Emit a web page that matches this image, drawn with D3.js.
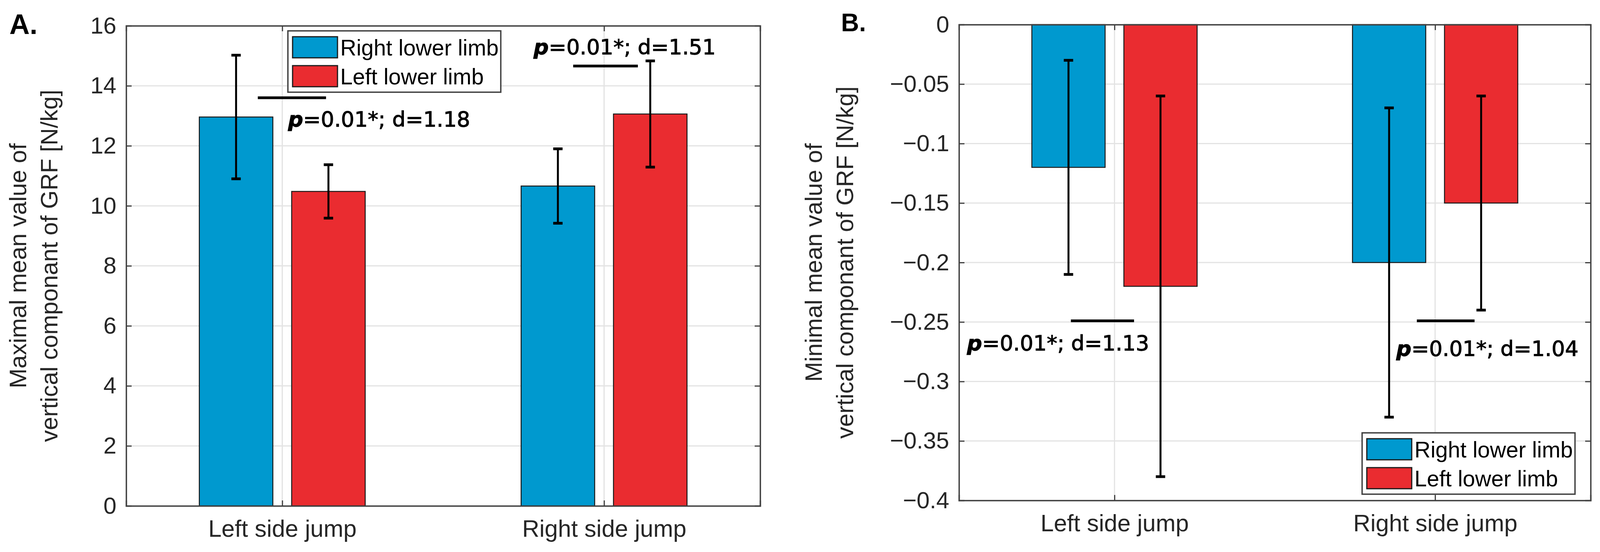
<!DOCTYPE html>
<html>
<head>
<meta charset="utf-8">
<script src="https://cdn.jsdelivr.net/npm/d3@7"></script>
<style>
  body { margin: 0; background: #fff; }
  svg { display: block; font-family: Arial, "Liberation Sans", sans-serif; }
</style>
</head>
<body>
<div id="chart"></div>
<script>
// ---- data ----
const categories = ["Left side jump", "Right side jump"];
const seriesNames = ["Right lower limb", "Left lower limb"];
const seriesColors = ["#0099cf", "#ea2c30"];

// panel A: maximal mean value (N/kg)
const maxRightLimb = [12.96, 10.66];
const maxRightLimbSD = [2.06, 1.24];
const maxLeftLimb = [10.48, 13.06];
const maxLeftLimbSD = [0.89, 1.77];
const ticksA = [0, 2, 4, 6, 8, 10, 12, 14, 16];

// panel B: minimal mean value (N/kg)
const minRightLimb = [-0.12, -0.20];
const minRightLimbSD = [0.09, 0.13];
const minLeftLimb = [-0.22, -0.15];
const minLeftLimbSD = [0.16, 0.09];
const ticksB = [-0.4, -0.35, -0.3, -0.25, -0.2, -0.15, -0.1, -0.05, 0];

// significance notes: [x1, x2, yLine, xText, yText, text]
const notesA = [
  [0.924, 1.136, 13.6, 1.018, 12.64, "=0.01*; d=1.18"],
  [1.904, 2.105, 14.66, 1.781, 15.05, "=0.01*; d=1.51"]
];
const notesB = [
  [0.864, 1.061, -0.249, 0.540, -0.274, "=0.01*; d=1.13"],
  [1.943, 2.123, -0.249, 1.879, -0.2785, "=0.01*; d=1.04"]
];

const W = 4102, H = 1413;
const svg = d3.select("#chart").append("svg")
  .attr("width", W).attr("height", H);

const axisColor = "#262626";
const fmtB = d => d === 0 ? "0" : d3.format("")(d).replace("-", "\u2212");

function drawPanel(cfg) {
  const g = svg.append("g");
  const x = d3.scaleLinear().domain([0.515, 2.485]).range([cfg.left, cfg.right]);
  const y = d3.scaleLinear().domain(cfg.yDomain).range([cfg.bottom, cfg.top]);
  const unit = x(1) - x(0);

  // grid
  g.append("g").selectAll("line.hg").data(cfg.ticks).enter().append("line")
    .attr("x1", cfg.left).attr("x2", cfg.right)
    .attr("y1", d => y(d)).attr("y2", d => y(d))
    .attr("stroke", "#e3e3e3").attr("stroke-width", 3);
  g.append("g").selectAll("line.vg").data([1, 2]).enter().append("line")
    .attr("x1", d => x(d)).attr("x2", d => x(d))
    .attr("y1", cfg.top).attr("y2", cfg.bottom)
    .attr("stroke", "#e3e3e3").attr("stroke-width", 3);

  // bars
  const offsets = [-0.1435, 0.1435];
  const bw = 0.2285 * unit;
  cfg.series.forEach((vals, s) => {
    const bars = g.append("g");
    bars.selectAll("rect").data(vals).enter().append("rect")
      .attr("x", (d, i) => x(i + 1 + offsets[s]) - bw / 2)
      .attr("width", bw)
      .attr("y", d => Math.min(y(d), y(0)))
      .attr("height", d => Math.abs(y(d) - y(0)))
      .attr("fill", seriesColors[s])
      .attr("stroke", "#1a1a1a").attr("stroke-width", 2.5);
  });

  // error bars
  cfg.series.forEach((vals, s) => {
    const sd = cfg.sds[s];
    const eg = g.append("g").attr("stroke", "#000");
    vals.forEach((v, i) => {
      const cx = x(i + 1 + offsets[s]);
      eg.append("line").attr("x1", cx).attr("x2", cx)
        .attr("y1", y(v - sd[i])).attr("y2", y(v + sd[i]))
        .attr("stroke-width", 5);
      [v - sd[i], v + sd[i]].forEach(e => {
        eg.append("line").attr("x1", cx - 12).attr("x2", cx + 12)
          .attr("y1", y(e)).attr("y2", y(e)).attr("stroke-width", 7);
      });
    });
  });

  // box axes
  const yAxisL = d3.axisLeft(y).tickValues(cfg.ticks).tickSize(-14).tickPadding(25)
    .tickFormat(cfg.fmt);
  const gl = g.append("g").attr("transform", `translate(${cfg.left},0)`).call(yAxisL);
  const yAxisR = d3.axisRight(y).tickValues(cfg.ticks).tickSize(-14).tickFormat("");
  const gr = g.append("g").attr("transform", `translate(${cfg.right},0)`).call(yAxisR);
  const xAxisB = d3.axisBottom(x).tickValues([1, 2]).tickSize(-14).tickPadding(36)
    .tickFormat(d => categories[d - 1]);
  const gb = g.append("g").attr("transform", `translate(0,${cfg.bottom})`).call(xAxisB);
  const xAxisT = d3.axisTop(x).tickValues([1, 2]).tickSize(-14).tickFormat("");
  const gt = g.append("g").attr("transform", `translate(0,${cfg.top})`).call(xAxisT);
  [gl, gr, gb, gt].forEach(a => {
    a.select(".domain").attr("stroke", "#404040").attr("stroke-width", 3.5);
    a.selectAll(".tick line").attr("stroke", "#404040").attr("stroke-width", 3);
    a.selectAll("text").attr("fill", axisColor)
      .style("font-family", "Arial, 'Liberation Sans', sans-serif")
      .style("font-size", "60px");
  });
  gb.selectAll("text").style("font-size", "61px");

  // y label
  const yl = g.append("text")
    .attr("transform", `translate(${cfg.labelX},${(cfg.top + cfg.bottom) / 2}) rotate(-90)`)
    .attr("text-anchor", "middle").attr("fill", axisColor)
    .style("font-size", "61px");
  cfg.ylabel.forEach((t, i) => {
    yl.append("tspan").attr("x", 0).attr("y", i * 80).text(t);
  });

  // panel letter
  g.append("text").attr("x", cfg.letterX).attr("y", cfg.letterY)
    .style("font-weight", "bold").style("font-size", cfg.letterSize + "px")
    .attr("fill", "#000").text(cfg.letter);

  // significance notes
  cfg.notes.forEach(n => {
    g.append("line").attr("x1", x(n[0])).attr("x2", x(n[1]))
      .attr("y1", y(n[2])).attr("y2", y(n[2]))
      .attr("stroke", "#000").attr("stroke-width", 7);
    const t = g.append("text").attr("x", x(n[3])).attr("y", y(n[4]))
      .style("font-family", "'DejaVu Sans', sans-serif").style("font-size", "54px")
      .attr("fill", "#000").attr("stroke", "#000").attr("stroke-width", 1.3);
    t.append("tspan").style("font-weight", "bold").style("font-style", "italic").text("p");
    t.append("tspan").text(n[5]);
  });

  // legend
  const lg = g.append("g").attr("transform", `translate(${cfg.legend[0]},${cfg.legend[1]})`);
  lg.append("rect").attr("width", 545).attr("height", 157)
    .attr("fill", "#fff").attr("stroke", "#404040").attr("stroke-width", 3.5);
  seriesNames.forEach((name, i) => {
    lg.append("rect").attr("x", 12).attr("y", 15 + i * 74)
      .attr("width", 115).attr("height", 54)
      .attr("fill", seriesColors[i]).attr("stroke", "#1a1a1a").attr("stroke-width", 3);
    lg.append("text").attr("x", 134).attr("y", 42 + i * 74).attr("dy", "0.36em")
      .style("font-size", "57px").attr("fill", "#000").text(name);
  });
}

drawPanel({
  left: 323, right: 1946, top: 66, bottom: 1295,
  yDomain: [0, 16], ticks: ticksA, fmt: d3.format("d"),
  series: [maxRightLimb, maxLeftLimb], sds: [maxRightLimbSD, maxLeftLimbSD],
  ylabel: ["Maximal mean value of", "vertical componant of GRF [N/kg]"],
  labelX: 67, letter: "A.", letterX: 24, letterY: 87, letterSize: 72,
  notes: notesA, legend: [737, 79]
});

drawPanel({
  left: 2455, right: 4072, top: 63, bottom: 1281,
  yDomain: [-0.4, 0], ticks: ticksB, fmt: fmtB,
  series: [minRightLimb, minLeftLimb], sds: [minRightLimbSD, minLeftLimbSD],
  ylabel: ["Minimal mean value of", "vertical componant of GRF [N/kg]"],
  labelX: 2104, letter: "B.", letterX: 2153, letterY: 80, letterSize: 64,
  notes: notesB, legend: [3487, 1108]
});
</script>
</body>
</html>
